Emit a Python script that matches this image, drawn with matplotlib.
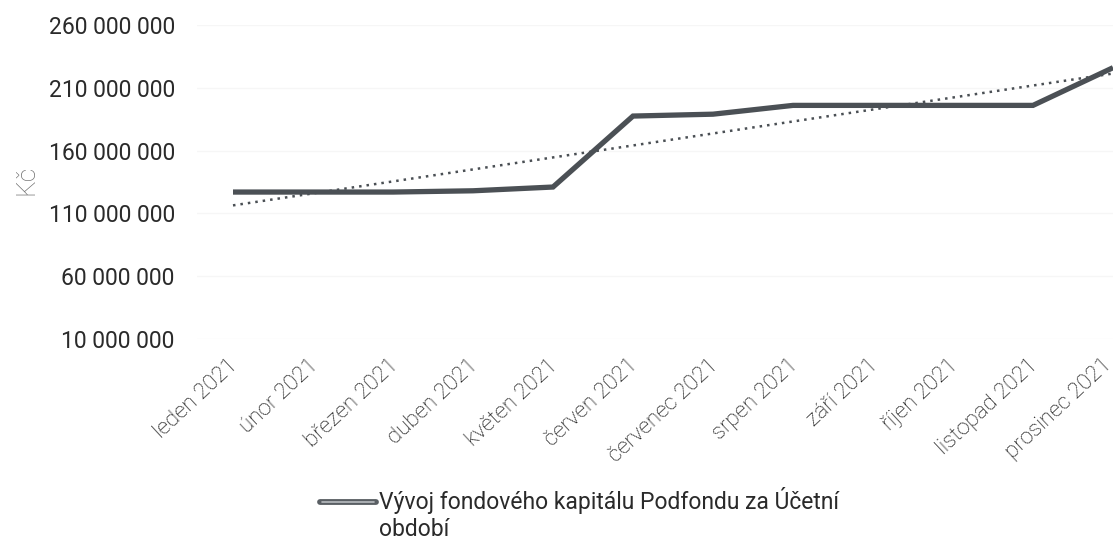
import numpy as np
import matplotlib
matplotlib.use("Agg")
import matplotlib.pyplot as plt
from matplotlib.lines import Line2D
from matplotlib.ticker import FuncFormatter

months = ["leden 2021", "únor 2021", "březen 2021", "duben 2021", "květen 2021",
          "červen 2021", "červenec 2021", "srpen 2021", "září 2021", "říjen 2021",
          "listopad 2021", "prosinec 2021"]
values = [127.0e6, 127.0e6, 127.0e6, 128.0e6, 131.0e6, 187.5e6,
          189.0e6, 196.0e6, 196.0e6, 196.0e6, 196.0e6, 226.0e6]
yticks = [10e6, 60e6, 110e6, 160e6, 210e6, 260e6]
series_label = "Vývoj fondového kapitálu Podfondu za Účetní\nobdobí"
y_label = "Kč"

plt.rcParams['font.family'] = ['Roboto', 'DejaVu Sans']

W, H = 1115, 539
fig = plt.figure(figsize=(W / 100, H / 100), dpi=100)
left, right, top, bottom = 197, 1113, 25, 339
ax = fig.add_axes([left / W, 1 - bottom / H, (right - left) / W, (bottom - top) / H])

x = np.arange(len(months))
line_color = "#4b5055"
ax.plot(x, values, color=line_color, lw=3.8, solid_joinstyle="miter", solid_capstyle="butt", zorder=3)

coef = np.polyfit(x, values, 1)
trend = np.polyval(coef, x)
ax.plot(x, trend, color="#4a4f54", lw=1.8, linestyle=(0, (1, 2.0)), zorder=2)

ax.set_xlim(-0.45, 11.0)
ax.set_ylim(10e6, 260e6)
ax.set_yticks(yticks)
ax.yaxis.set_major_formatter(FuncFormatter(lambda v, p: f"{int(round(v)):,}".replace(",", " ")))
ax.set_xticks(x)
ax.set_xticklabels([])
for i, m in enumerate(months):
    dx = 1.5 if i < len(months) - 1 else -3
    ax.annotate(m, xy=(x[i], 0), xycoords=("data", "axes fraction"),
                xytext=(dx, -17), textcoords="offset points",
                rotation=43, ha="right", va="center", rotation_mode="anchor",
                fontsize=16, color="#000000", fontweight="light", annotation_clip=False)
for lab in ax.get_yticklabels():
    lab.set_fontsize(16.5)
    lab.set_color("#2a2a2a")
ax.tick_params(axis="both", length=0)
ax.tick_params(axis="y", pad=16)
ax.grid(axis="y", color="#f6f6f6", lw=1)
ax.set_axisbelow(True)
for s in ax.spines.values():
    s.set_visible(False)

fig.text(26 / W, 1 - 180 / H, y_label, rotation=90, ha="center", va="center",
         fontsize=19, color="#6e6e6e", fontweight="light")

# legend
ys = 1 - 502 / H
fig.add_artist(Line2D([320 / W, 376 / W], [ys, ys], color="#5a5f64", lw=4.2, solid_capstyle="round"))
fig.add_artist(Line2D([322 / W, 374 / W], [ys, ys], color="#b8bcc0", lw=1.2, solid_capstyle="round"))
fig.text(379 / W, 1 - 487 / H, series_label, ha="left", va="top", fontsize=16.5,
         color="#2a2a2a", linespacing=1.2)

fig.savefig("out.png", dpi=100, facecolor="white")
